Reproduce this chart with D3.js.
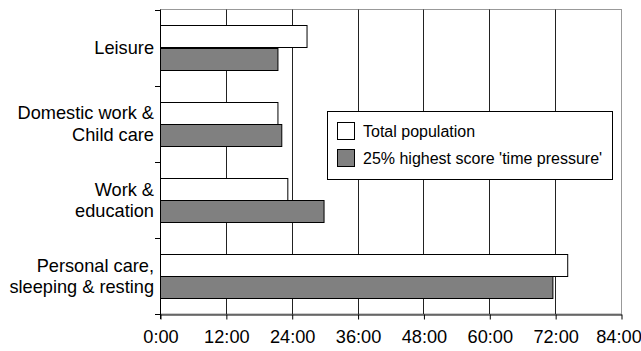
<!DOCTYPE html>
<html>
<head>
<meta charset="utf-8">
<script src="https://cdn.jsdelivr.net/npm/d3@7"></script>
<style>
  html, body { margin: 0; padding: 0; background: #fff; }
  svg { display: block; font-family: "Liberation Sans", Arial, sans-serif; }
</style>
</head>
<body>
<svg id="chart" width="641" height="351"></svg>
<script>
// Weekly time use (hours) per activity group
const categories = [
  ["Leisure"],
  ["Domestic work &", "Child care"],
  ["Work &", "education"],
  ["Personal care,", "sleeping & resting"]
];
const seriesNames = ["Total population", "25% highest score 'time pressure'"];
const totalPopulation = [26.7, 21.4, 23.2, 74.2];
const highPressure   = [21.4, 22.1, 29.8, 71.5];
const tickHours = [0, 12, 24, 36, 48, 60, 72, 84];

const seriesFill = ["#ffffff", "#808080"];
const seriesValues = [totalPopulation, highPressure];

const svg = d3.select("#chart");
const plotLeft = 160, plotRight = 621, plotTop = 9.5, plotBottom = 314;
const axisFont = 18.2;

const x = d3.scaleLinear().domain([0, 84]).range([plotLeft, plotRight]);
const y = d3.scaleBand()
  .domain(d3.range(categories.length))
  .range([plotTop, plotBottom])
  .paddingInner(0)
  .paddingOuter(0);
const inner = d3.scaleBand()
  .domain(d3.range(seriesValues.length))
  .range([0, y.bandwidth()])
  .paddingOuter(0.72)
  .paddingInner(0);

// plot area border
svg.append("rect")
  .attr("x", plotLeft + 0.5).attr("y", plotTop)
  .attr("width", plotRight - plotLeft).attr("height", plotBottom - plotTop)
  .attr("fill", "none").attr("stroke", "#999");

// vertical gridlines
svg.append("g").selectAll("line")
  .data(tickHours.filter(h => h > 0 && h < 84))
  .join("line")
  .attr("x1", d => Math.round(x(d)) + 0.5).attr("x2", d => Math.round(x(d)) + 0.5)
  .attr("y1", plotTop).attr("y2", plotBottom)
  .attr("stroke", "#222").attr("stroke-width", 1);

// bars
categories.forEach((c, i) => {
  seriesValues.forEach((vals, s) => {
    svg.append("rect")
      .attr("x", x(0) + 0.5)
      .attr("y", Math.round(y(i) + inner(s)) + 0.5)
      .attr("width", x(vals[i]) - x(0))
      .attr("height", Math.round(inner.bandwidth()))
      .attr("fill", seriesFill[s])
      .attr("stroke", "#000").attr("stroke-width", 1);
  });
});

// x axis
const xAxis = svg.append("g")
  .attr("transform", `translate(0.5,${plotBottom + 0.5})`)
  .call(d3.axisBottom(x).tickValues(tickHours).tickFormat(h => h + ":00").tickSize(5).tickSizeOuter(0));
xAxis.select(".domain").attr("stroke", "#000");
xAxis.selectAll(".tick line").attr("stroke", "#000");
xAxis.selectAll(".tick text")
  .attr("font-size", axisFont).attr("fill", "#000")
  .attr("font-family", "Liberation Sans, Arial, sans-serif")
  .attr("dy", null).attr("y", 28.5)
  // keep the last label inside the canvas edge
  .attr("x", d => d === 84 ? -3 : 0);

// y axis line and category boundary ticks
svg.append("line")
  .attr("x1", plotLeft + 0.5).attr("x2", plotLeft + 0.5)
  .attr("y1", plotTop).attr("y2", plotBottom + 5)
  .attr("stroke", "#000");
svg.append("g").selectAll("line")
  .data(d3.range(categories.length + 1))
  .join("line")
  .attr("x1", plotLeft - 5).attr("x2", plotLeft)
  .attr("y1", i => Math.round(plotTop + i * y.step()) + 0.5)
  .attr("y2", i => Math.round(plotTop + i * y.step()) + 0.5)
  .attr("stroke", "#000");

// category labels
const lineGap = 21.5;
categories.forEach((lines, i) => {
  const cy = y(i) + y.bandwidth() / 2;
  const t = svg.append("text")
    .attr("text-anchor", "end")
    .attr("font-size", axisFont)
    .attr("fill", "#000");
  lines.forEach((ln, k) => {
    t.append("tspan")
      .attr("x", 154)
      .attr("y", cy + (k - (lines.length - 1) / 2) * lineGap + 6.5)
      .text(ln);
  });
});

// legend
const lg = svg.append("g");
lg.append("rect")
  .attr("x", 327.5).attr("y", 111.5).attr("width", 285).attr("height", 68)
  .attr("fill", "#fff").attr("stroke", "#000");
seriesNames.forEach((name, s) => {
  lg.append("rect")
    .attr("x", 337.5).attr("y", 122.5 + s * 27)
    .attr("width", 17).attr("height", 17)
    .attr("fill", seriesFill[s]).attr("stroke", "#000");
  lg.append("text")
    .attr("x", 363).attr("y", 136.5 + s * 27)
    .attr("font-size", 16).attr("fill", "#000")
    .text(name);
});
</script>
</body>
</html>
